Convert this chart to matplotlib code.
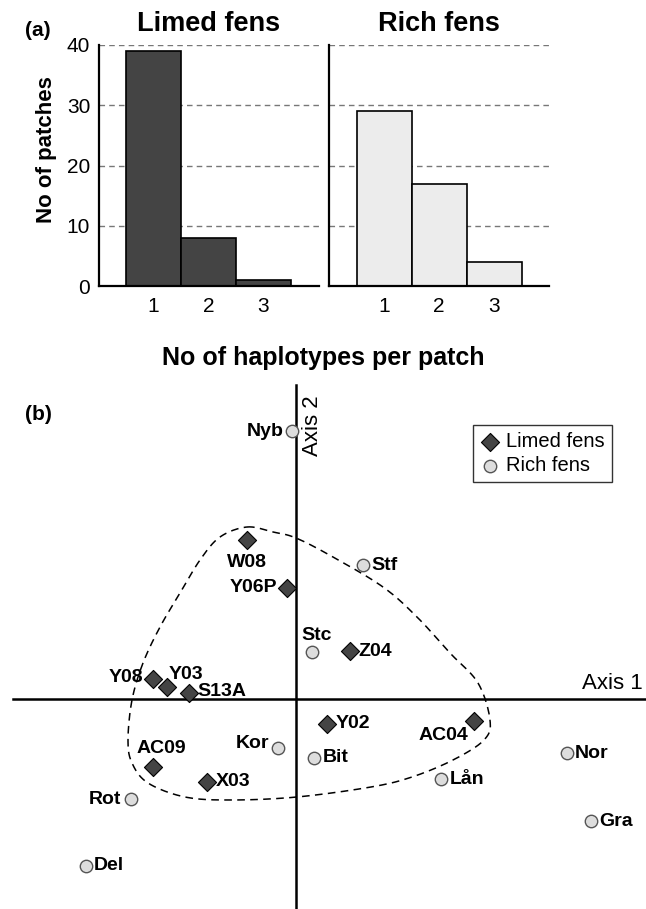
import numpy as np
import matplotlib
matplotlib.use('Agg')
from matplotlib import pyplot as plt

plt.rcParams['font.family'] = ['Liberation Sans', 'DejaVu Sans']

# ---- panel (a): haplotypes per patch ----
haplotypes = [1, 2, 3]
limed_counts = [39, 8, 1]
rich_counts = [29, 17, 4]
yticks_a = [0, 10, 20, 30, 40]

# ---- panel (b): ordination scores ----
limed_names = ['W08', 'Y06P', 'Z04', 'Y08', 'Y03', 'S13A', 'Y02', 'AC04', 'AC09', 'X03']
limed_x = [-0.49, -0.09, 0.54, -1.43, -1.29, -1.07, 0.31, 1.78, -1.435, -0.89]
limed_y = [1.59, 1.11, 0.48, 0.20, 0.12, 0.06, -0.25, -0.22, -0.68, -0.83]

rich_names = ['Nyb', 'Stf', 'Stc', 'Kor', 'Bit', 'Lån', 'Nor', 'Gra', 'Rot', 'Del']
rich_x = [-0.04, 0.67, 0.16, -0.18, 0.18, 1.45, 2.705, 2.945, -1.655, -2.105]
rich_y = [2.68, 1.34, 0.47, -0.49, -0.59, -0.80, -0.54, -1.22, -1.00, -1.67]

# outline drawn round the limed fens
hull_x = [-0.49, -0.23, 0.0, 0.37, 0.87, 1.21, 1.54, 1.82, 1.94, 1.88, 1.57, 1.16, 0.75,
          0.01, -0.65, -1.11, -1.48, -1.64, -1.68, -1.64, -1.53, -1.36, -1.16, -0.96, -0.76]
hull_y = [1.72, 1.67, 1.61, 1.42, 1.12, 0.82, 0.46, 0.16, -0.21, -0.41, -0.61, -0.78, -0.88,
          -0.98, -1.01, -0.98, -0.84, -0.64, -0.41, -0.01, 0.36, 0.72, 1.06, 1.39, 1.62]

# label offsets in points (dx, dy, ha, va)
limed_lab = {'W08': (0, -10, 'center', 'top'), 'Y06P': (-7, 0, 'right', 'center'),
             'Z04': (6, 0, 'left', 'center'), 'Y08': (-7, 1, 'right', 'center'),
             'Y03': (1, 3, 'left', 'bottom'), 'S13A': (6, 1, 'left', 'center'),
             'Y02': (6, 0, 'left', 'center'), 'AC04': (-4, -4, 'right', 'top'),
             'AC09': (6, 7, 'center', 'bottom'), 'X03': (6, 0, 'left', 'center')}
rich_lab = {'Nyb': (-6, 0, 'right', 'center'), 'Stf': (6, 0, 'left', 'center'),
            'Stc': (3, 6, 'center', 'bottom'), 'Kor': (-6, 3, 'right', 'center'),
            'Bit': (6, 0, 'left', 'center'), 'Lån': (6, 0, 'left', 'center'),
            'Nor': (6, 0, 'left', 'center'), 'Gra': (6, 0, 'left', 'center'),
            'Rot': (-7, 0, 'right', 'center'), 'Del': (6, 0, 'left', 'center')}


def closed_spline(xs, ys, n=20):
    # closed Catmull-Rom through the outline points
    p = np.column_stack([xs, ys])
    m = len(p)
    out = []
    for i in range(m):
        p0, p1, p2, p3 = p[i - 1], p[i], p[(i + 1) % m], p[(i + 2) % m]
        for t in np.linspace(0, 1, n, endpoint=False):
            t2, t3 = t * t, t * t * t
            out.append(0.5 * ((2 * p1) + (-p0 + p2) * t + (2 * p0 - 5 * p1 + 4 * p2 - p3) * t2
                              + (-p0 + 3 * p1 - 3 * p2 + p3) * t3))
    out.append(out[0])
    out = np.array(out)
    return out[:, 0], out[:, 1]


fig = plt.figure(figsize=(6.46, 9.09), dpi=100)

W, H = 646.0, 909.0
ax1 = fig.add_axes([98.5 / W, (H - 286) / H, 220 / W, 241 / H])
ax2 = fig.add_axes([329 / W, (H - 286) / H, 220 / W, 241 / H])

for ax, counts, col, title in [(ax1, limed_counts, '#444444', 'Limed fens'),
                               (ax2, rich_counts, '#ececec', 'Rich fens')]:
    for v in yticks_a[1:]:
        ax.axhline(v, color='#777777', lw=1.0, ls=(0, (4, 3)), zorder=0)
    ax.bar(haplotypes, counts, width=1.0, color=col, edgecolor='black', lw=1.2, zorder=2)
    ax.set_xlim(0, 4)
    ax.set_ylim(0, 40)
    ax.set_xticks(haplotypes)
    ax.set_yticks(yticks_a)
    ax.tick_params(length=0, labelsize=15)
    ax.tick_params(axis='x', pad=8)
    ax.tick_params(axis='y', pad=6)
    for s in ['top', 'right']:
        ax.spines[s].set_visible(False)
    for s in ['left', 'bottom']:
        ax.spines[s].set_linewidth(1.6)
    ax.set_title(title, fontsize=19.5, fontweight='bold', pad=10)

ax2.set_yticklabels([])
fig.text(47 / W, 1 - 150 / H, 'No of patches', fontsize=16, fontweight='bold',
         rotation=90, ha='center', va='center')
fig.text(323 / W, 1 - 358 / H, 'No of haplotypes per patch', fontsize=18, fontweight='bold',
         ha='center', va='center')
fig.text(25 / W, 1 - 30 / H, '(a)', fontsize=15, fontweight='bold', ha='left', va='center')

# ---- panel (b) ----
ax3 = fig.add_axes([0, 0, 1, 529 / H])
ax3.set_xlim(-2.96, 3.50)
ax3.set_ylim(-2.10, 3.19)
ax3.axis('off')
ax3.plot([-2.83, 3.50], [0, 0], color='black', lw=1.8, zorder=1)
ax3.plot([0, 0], [-2.10, 3.14], color='black', lw=1.8, zorder=1)

hx, hy = closed_spline(hull_x, hull_y)
ax3.plot(hx, hy, color='black', lw=1.1, ls=(0, (5, 3.5)), zorder=2)

ax3.scatter(limed_x, limed_y, marker='D', s=85, color='#444444', edgecolor='black',
            lw=0.8, zorder=4, label='Limed fens')
ax3.scatter(rich_x, rich_y, marker='o', s=80, color='#dddddd', edgecolor='#555555',
            lw=1.0, zorder=4, label='Rich fens')

lab_font = dict(fontsize=14, fontweight='bold')
for name, x, y in zip(limed_names, limed_x, limed_y):
    dx, dy, ha, va = limed_lab[name]
    ax3.annotate(name, (x, y), xytext=(dx, dy), textcoords='offset points',
                 ha=ha, va=va, zorder=5, **lab_font)
for name, x, y in zip(rich_names, rich_x, rich_y):
    dx, dy, ha, va = rich_lab[name]
    ax3.annotate(name, (x, y), xytext=(dx, dy), textcoords='offset points',
                 ha=ha, va=va, zorder=5, **lab_font)

ax3.text(3.47, 0.05, 'Axis 1', fontsize=16, ha='right', va='bottom')
ax3.text(0.17, 3.04, 'Axis 2', fontsize=16, ha='center', va='top', rotation=90)

leg = ax3.legend(loc='upper left', bbox_to_anchor=(473 / W, (529 - 45) / 529),
                 bbox_transform=ax3.transAxes, fontsize=14.5, frameon=True, fancybox=False,
                 edgecolor='black', handletextpad=0.3, borderpad=0.35, labelspacing=0.25,
                 handlelength=1.0, borderaxespad=0)
leg.get_frame().set_linewidth(1.0)

fig.text(25 / W, 1 - 415 / H, '(b)', fontsize=15, fontweight='bold', ha='left', va='center')

fig.savefig('out.png', dpi=100)
